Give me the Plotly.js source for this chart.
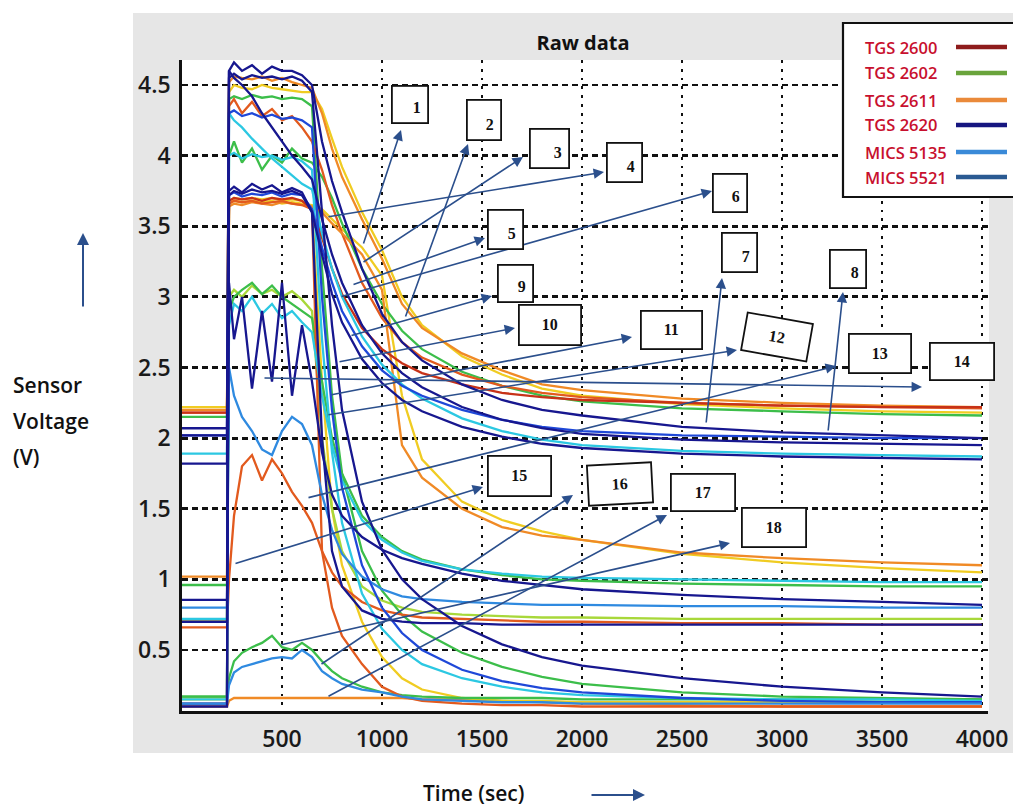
<!DOCTYPE html>
<html><head><meta charset="utf-8">
<script src="https://cdn.plot.ly/plotly-3.0.1.min.js"></script>
<style>html,body{margin:0;padding:0;background:#fff;}#chart{width:1013px;height:811px;}</style>
</head><body><div id="chart"></div>
<script>
// ---------- DATA ----------
const timeSec = [0,225,235,260,300,350,400,450,500,550,600,650,700,750,800,900,1000,1100,1200,1400,1600,1800,2000,2500,3000,3500,4000];

// upper group (baseline ~2 V)
const u1Navy   = [2.07,2.07,4.6,4.66,4.6,4.64,4.58,4.63,4.6,4.6,4.57,4.5,4.1,3.82,3.6,3.2,2.88,2.68,2.55,2.38,2.27,2.2,2.16,2.08,2.04,2.02,2.0];
const u2Orange = [2.2,2.2,4.52,4.56,4.55,4.54,4.56,4.53,4.55,4.52,4.5,4.48,4.3,4.05,3.85,3.55,3.27,2.95,2.78,2.6,2.48,2.38,2.34,2.28,2.25,2.23,2.22];
const u3Yellow = [2.22,2.22,4.45,4.5,4.48,4.47,4.5,4.48,4.47,4.46,4.45,4.45,4.33,4.12,3.92,3.6,3.33,3.0,2.8,2.58,2.45,2.35,2.3,2.24,2.21,2.19,2.18];
const u4Navy   = [2.02,2.02,4.6,4.55,4.5,4.42,4.3,4.2,4.1,4.0,3.92,3.83,3.55,3.3,3.1,2.8,2.6,2.46,2.36,2.22,2.13,2.07,2.03,1.99,1.97,1.96,1.95];
const u5Cyan   = [1.89,1.89,4.3,4.25,4.2,4.12,4.05,3.98,3.92,3.86,3.8,3.76,3.45,3.2,3.0,2.72,2.52,2.38,2.28,2.14,2.05,1.99,1.95,1.91,1.89,1.88,1.87];
const u6Orange = [2.18,2.18,4.35,4.4,4.3,4.38,4.28,4.33,4.25,4.28,4.2,4.1,3.9,3.65,3.45,3.1,2.85,2.68,2.57,2.45,2.37,2.32,2.29,2.25,2.23,2.22,2.21];
const u7Green  = [2.15,2.15,4.0,4.1,3.95,4.05,3.9,4.0,3.95,4.05,3.98,3.95,3.85,3.7,3.52,3.2,2.95,2.76,2.63,2.47,2.37,2.3,2.26,2.21,2.19,2.17,2.16];
const u8Navy   = [1.82,1.82,3.75,3.78,3.74,3.8,3.76,3.79,3.74,3.77,3.74,3.6,3.3,3.02,2.82,2.56,2.39,2.27,2.19,2.08,2.01,1.96,1.93,1.89,1.87,1.86,1.85];
const u9Red    = [2.18,2.18,3.68,3.7,3.69,3.7,3.68,3.7,3.69,3.7,3.68,3.62,3.42,3.2,3.02,2.78,2.63,2.53,2.46,2.38,2.32,2.29,2.27,2.25,2.23,2.22,2.22];
const u10Blue  = [2.02,2.02,3.72,3.74,3.71,3.73,3.72,3.74,3.71,3.73,3.72,3.62,3.35,3.1,2.9,2.65,2.48,2.37,2.3,2.2,2.13,2.08,2.05,2.02,2.01,2.0,2.0];
// middle group (baseline ~0.7-1 V)
const m1Orange = [1.02,1.02,3.64,3.66,3.65,3.67,3.66,3.65,3.67,3.66,3.65,3.64,3.6,3.52,3.45,3.3,3.05,1.95,1.72,1.5,1.37,1.31,1.28,1.19,1.15,1.12,1.1];
const m2Yellow = [0.7,0.7,3.66,3.68,3.67,3.68,3.67,3.68,3.66,3.67,3.66,3.65,3.62,3.55,3.48,3.35,3.15,2.3,1.85,1.55,1.42,1.34,1.28,1.18,1.12,1.08,1.05];
const m3Orange = [0.66,0.66,1.0,1.45,1.8,1.88,1.7,1.85,1.75,1.62,1.52,1.4,1.2,1.05,0.95,0.84,0.78,0.75,0.73,0.72,0.71,0.7,0.7,0.69,0.69,0.68,0.68];
const m4Navy   = [0.855,0.855,3.1,2.7,3.0,2.35,2.9,2.4,3.1,2.3,2.8,2.4,1.9,1.6,1.45,1.3,1.21,1.15,1.11,1.04,0.99,0.96,0.93,0.89,0.86,0.84,0.82];
const m5Green  = [0.96,0.96,2.9,3.0,3.05,3.1,3.02,3.08,3.0,2.95,2.9,2.85,2.4,2.0,1.75,1.45,1.3,1.2,1.14,1.07,1.03,1.0,0.99,0.97,0.96,0.95,0.95];
const m6Cyan   = [0.72,0.72,2.8,2.95,2.9,3.0,2.88,2.95,2.85,2.9,2.82,2.75,2.3,1.95,1.7,1.42,1.28,1.19,1.13,1.07,1.04,1.02,1.01,1.0,0.99,0.98,0.98];
const m7Blue   = [0.8,0.8,2.5,2.3,2.15,2.05,1.92,1.88,2.05,2.15,2.1,1.95,1.6,1.35,1.18,1.02,0.93,0.88,0.86,0.84,0.83,0.82,0.82,0.81,0.81,0.8,0.8];
const m8Navy   = [0.7,0.7,3.72,3.75,3.73,3.76,3.74,3.75,3.73,3.75,3.72,3.6,2.0,1.2,0.95,0.78,0.72,0.7,0.69,0.69,0.68,0.68,0.68,0.68,0.68,0.68,0.68];
const m9Lime   = [0.7,0.7,3.0,3.05,3.0,3.08,3.02,3.05,3.0,3.04,2.98,2.9,2.0,1.5,1.2,0.95,0.85,0.8,0.77,0.75,0.74,0.73,0.73,0.72,0.72,0.72,0.72];
// lower group (baseline ~0.1 V)
const l1Red    = [0.12,0.12,3.66,3.68,3.67,3.68,3.66,3.67,3.68,3.66,3.65,3.62,1.2,0.8,0.6,0.4,0.24,0.17,0.14,0.12,0.11,0.11,0.1,0.1,0.1,0.1,0.1];
const l2Yellow = [0.15,0.15,3.68,3.7,3.69,3.7,3.69,3.7,3.68,3.69,3.68,3.62,2.4,1.5,1.1,0.7,0.45,0.3,0.22,0.16,0.14,0.14,0.13,0.13,0.13,0.13,0.13];
const l3Green  = [0.17,0.17,4.4,4.42,4.4,4.43,4.41,4.42,4.4,4.41,4.4,4.35,3.2,2.3,1.75,1.2,0.92,0.75,0.63,0.48,0.38,0.31,0.26,0.2,0.17,0.16,0.15];
const l4Navy   = [0.1,0.1,4.55,4.58,4.54,4.57,4.55,4.56,4.54,4.56,4.53,4.45,3.6,2.8,2.2,1.55,1.21,1.0,0.86,0.67,0.54,0.45,0.39,0.3,0.24,0.2,0.17];
const l5Blue   = [0.12,0.12,4.3,4.32,4.28,4.3,4.27,4.29,4.26,4.27,4.25,4.2,3.0,2.2,1.65,1.1,0.8,0.62,0.5,0.36,0.28,0.23,0.2,0.16,0.14,0.13,0.13];
const l6Cyan   = [0.15,0.15,4.0,4.02,3.98,4.01,3.99,4.0,3.97,3.99,3.96,3.9,2.7,1.9,1.4,0.9,0.65,0.5,0.4,0.3,0.24,0.2,0.18,0.16,0.15,0.15,0.14];
const l7Green  = [0.17,0.17,0.3,0.42,0.48,0.52,0.55,0.6,0.52,0.5,0.55,0.5,0.42,0.35,0.3,0.24,0.2,0.18,0.17,0.16,0.16,0.16,0.15,0.15,0.15,0.15,0.15];
const l8Blue   = [0.12,0.12,0.25,0.34,0.38,0.4,0.42,0.44,0.45,0.44,0.5,0.45,0.35,0.3,0.26,0.22,0.2,0.17,0.15,0.14,0.13,0.13,0.12,0.12,0.12,0.12,0.12];
const l9Orange = [0.1,0.1,0.14,0.16,0.16,0.16,0.16,0.16,0.16,0.16,0.16,0.16,0.16,0.16,0.16,0.16,0.16,0.16,0.15,0.15,0.14,0.13,0.12,0.11,0.1,0.1,0.1];

const xTickVals = [500,1000,1500,2000,2500,3000,3500,4000];
const yTickVals = [0.5,1,1.5,2,2.5,3,3.5,4,4.5];
const yTickText = ['0.5','1','1.5','2','2.5','3','3.5','4','4.5'];
const legendLabels = ['TGS 2600','TGS 2602','TGS 2611','TGS 2620','MICS 5135','MICS 5521'];
const boxLabels = ['1','2','3','4','5','6','7','8','9','10','11','12','13','14','15','16','17','18'];

// ---------- STYLE ----------
const C = {navy:'#17178f', blue:'#1f48d8', mid:'#2f8ae0', cyan:'#2cc8e2', green:'#3cbe4a',
           lime:'#a8d83a', yellow:'#f0cc22', orange:'#f08a26', redor:'#e25a1e', red:'#c73218'};
const series = [
  [l9Orange,C.orange],[u3Yellow,C.yellow],[m2Yellow,C.yellow],[l2Yellow,C.yellow],[m9Lime,C.lime],
  [u7Green,C.green],[m5Green,C.green],[l3Green,C.green],[l7Green,C.green],
  [u2Orange,C.orange],[u6Orange,C.redor],[m1Orange,C.orange],[m3Orange,C.redor],[u9Red,C.red],[l1Red,C.redor],
  [u5Cyan,C.cyan],[m6Cyan,C.cyan],[l6Cyan,C.cyan],
  [u10Blue,C.blue],[m7Blue,C.mid],[l5Blue,C.blue],[l8Blue,C.mid],
  [u4Navy,C.navy],[u8Navy,C.navy],[m4Navy,C.navy],[m8Navy,C.navy],[l4Navy,C.navy],[u1Navy,C.navy]
];
const traces = series.map(([v,c]) => ({x:timeSec, y:v, type:'scatter', mode:'lines',
  line:{color:c, width:2.3}, hoverinfo:'skip'}));

// pixel -> paper helpers for decorations
const PL=182, PR=988, PT=60, PB=711;
const px = x => (x-PL)/(PR-PL);
const py = y => (PB-y)/(PB-PT);

const shapes = [
  {type:'rect', xref:'paper', yref:'paper', x0:px(133), x1:px(1013), y0:py(753), y1:py(13), fillcolor:'#e6e6e6', line:{width:0}, layer:'below'},
  {type:'rect', xref:'paper', yref:'paper', x0:px(180), x1:px(989), y0:py(711), y1:py(60), fillcolor:'#ffffff', line:{width:0}, layer:'below'},
  {type:'rect', xref:'paper', yref:'paper', x0:px(843), x1:px(1025), y0:py(197), y1:py(23), fillcolor:'#ffffff', line:{color:'#111', width:2.2}, layer:'above'}
];
const legendColors = ['#8e1c1c','#6aa43c','#ea8a3a','#161680','#3a8ad8','#2a5a92'];
const legendY = [47,73,100,125,152,177];
const annotations = [];
legendLabels.forEach((t,i) => {
  shapes.push({type:'line', xref:'paper', yref:'paper', x0:px(956), x1:px(1007), y0:py(legendY[i]), y1:py(legendY[i]),
    line:{color:legendColors[i], width:4.5}, layer:'above'});
  annotations.push({xref:'paper', yref:'paper', x:px(863), y:py(legendY[i]), xanchor:'left', yanchor:'middle',
    text:t, showarrow:false, font:{family:'Open Sans', size:16.5, color:'#c8102e', weight:600}});
});

// numbered boxes: [cx, cy, w, h, angle]
const boxGeom = [[410,104,38,39,0],[484,120,36,42,0],[549,148,41,41,0],[624,162,37,41,0],[505,229,37,41,0],
  [730,193,36,40,0],[739,252,37,41,0],[848,269,38,40,0],[515,283,37,39,0],[550,325,64,42,0],
  [671,330,63,40,0],[777,337,68,40,10],[880,353,64,41,0],[962,361,66,39,0],[519,476,65,42,0],
  [620,484,66,42,-3],[703,492,66,39,0],[774,527,66,41,0]];
// arrows: [tailX, tailY, headX, headY]
const arrowGeom = [[363,245,401,130],[405,318,468,144],[362,263,523,157],[327,217,604,172],[352,285,485,238],
  [340,297,712,191],[706,424,722,278],[828,432,843,292],[350,336,492,296],[338,362,515,328],
  [330,395,632,337],[327,415,737,350],[307,498,836,366],[263,378,922,387],[234,564,483,487],
  [320,665,573,495],[327,697,667,515],[280,645,730,543]];
arrowGeom.forEach(([tx,ty,hx,hy]) => annotations.push({xref:'paper', yref:'paper', x:px(hx), y:py(hy),
  ax:tx-hx, ay:ty-hy, axref:'pixel', ayref:'pixel', text:'', showarrow:true, arrowhead:2, arrowsize:1.3,
  arrowwidth:1.6, arrowcolor:'#2b4f8c', standoff:0}));
boxGeom.forEach(([cx,cy,w,h,a],i) => {
  const single = boxLabels[i].length === 1;
  const bp = single ? 6 : 0;
  annotations.push({xref:'paper', yref:'paper', x:px(cx), y:py(cy),
    xanchor:'center', yanchor:'middle', text:boxLabels[i], showarrow:false,
    width:w-4-2*bp, height:h-4-2*bp, align: single ? 'right' : 'center', valign: single ? 'bottom' : 'middle',
    textangle:a, bgcolor:'#fff', bordercolor:'#111', borderwidth:1.8, borderpad:bp,
    font:{family:'Liberation Serif', size:16, color:'#111', weight:'bold'}});
});

// axis captions and arrows
annotations.push({xref:'paper', yref:'paper', x:px(473), y:py(793), xanchor:'center', yanchor:'middle',
  text:'Time (sec)', showarrow:false, font:{family:'Open Sans', size:21, color:'#111', weight:600}});
annotations.push({xref:'paper', yref:'paper', x:px(645), y:py(795), ax:-55, ay:0, axref:'pixel', ayref:'pixel',
  text:'', showarrow:true, arrowhead:2, arrowsize:1.2, arrowwidth:2, arrowcolor:'#2b4f8c', standoff:0});
[['Sensor',385],['Voltage',421],['(V)',457]].forEach(([t,y]) => annotations.push({xref:'paper', yref:'paper',
  x:px(11), y:py(y), xanchor:'left', yanchor:'middle', text:t, showarrow:false,
  font:{family:'Open Sans', size:21, color:'#111', weight:600}}));
annotations.push({xref:'paper', yref:'paper', x:px(83), y:py(233), ax:0, ay:75, axref:'pixel', ayref:'pixel',
  text:'', showarrow:true, arrowhead:2, arrowsize:1.2, arrowwidth:2, arrowcolor:'#2b4f8c', standoff:0});

const layout = {
  width:1013, height:811, margin:{l:PL, r:1013-PR, t:PT, b:811-PB},
  paper_bgcolor:'#ffffff', plot_bgcolor:'rgba(0,0,0,0)', showlegend:false, hovermode:false,
  title:{text:'<b>Raw data</b>', xref:'paper', x:px(583), xanchor:'center', yref:'container', y:1-43/811, yanchor:'middle',
    font:{family:'Open Sans', size:20, color:'#111'}},
  xaxis:{range:[0,4030], tickvals:xTickVals, showgrid:true, gridcolor:'#111', gridwidth:2.8, griddash:'2.8px,6px',
    zeroline:false, showline:true, linecolor:'#111', linewidth:2.8, ticks:'', ticklabelstandoff:6,
    tickfont:{family:'Open Sans', size:23, color:'#1a1a1a', weight:600}},
  yaxis:{range:[0.068,4.677], tickvals:yTickVals, ticktext:yTickText, showgrid:true, gridcolor:'#111', gridwidth:2.8,
    griddash:'6px,4px', zeroline:false, showline:true, linecolor:'#111', linewidth:2.8, ticks:'', ticklabelstandoff:4,
    tickfont:{family:'Open Sans', size:23, color:'#1a1a1a', weight:600}},
  shapes, annotations
};
Plotly.newPlot('chart', traces, layout, {staticPlot:true});
</script></body></html>
